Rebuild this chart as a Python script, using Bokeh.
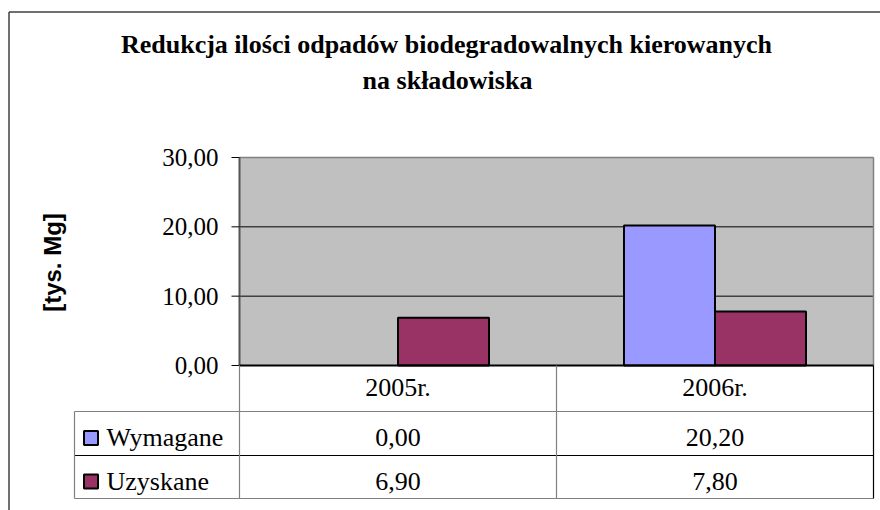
import math
from bokeh.plotting import figure
from bokeh.models import Range1d, ColumnDataSource
from bokeh.core.properties import value
from bokeh.embed import file_html
from bokeh.resources import INLINE

# ---------------- data ----------------
categories = ["2005r.", "2006r."]
series_names = ["Wymagane", "Uzyskane"]
wymagane = [0.00, 20.20]
uzyskane = [6.90, 7.80]
y_ticks = [0, 10, 20, 30]
y_tick_labels = ["0,00", "10,00", "20,00", "30,00"]
title_lines = ["Redukcja ilości odpadów biodegradowalnych kierowanych", "na składowiska"]
y_label = "[tys. Mg]"

series_values = [wymagane, uzyskane]
series_colors = ["#9999FF", "#993366"]

# ---------------- layout (page pixels) ----------------
W, H = 880, 510
PAGE = 0
PLOT_L, PLOT_R = 239, 873
PLOT_T, PLOT_B = 157, 365
n = len(categories)
ymax = y_ticks[-1]
SX = (PLOT_R - PLOT_L) / n
SY = (PLOT_B - PLOT_T) / ymax


def dx(px):
    return (px - PLOT_L) / SX


def dy(py):
    return (PLOT_B - py) / SY


SERIF = value("Liberation Serif")
SANS = value("Liberation Sans")

p = figure(width=W, height=H, output_backend="svg", toolbar_location=None,
           x_range=Range1d(dx(PAGE), dx(PAGE + W)),
           y_range=Range1d(dy(PAGE + H), dy(PAGE)),
           x_axis_location=None, y_axis_location=None, min_border=0,
           background_fill_color="white", border_fill_color="white")
p.outline_line_color = None
p.grid.visible = False

# outer chart border (left and top visible)
BL, BT = 8.5, 11.5
p.segment(x0=[dx(BL)], x1=[dx(BL)], y0=[dy(BT)], y1=[dy(PAGE + H)],
          line_color="#404040", line_width=1.5)
p.segment(x0=[dx(BL)], x1=[dx(PAGE + W)], y0=[dy(BT)], y1=[dy(BT)],
          line_color="#404040", line_width=1.5)

# plot area
p.quad(left=[0], right=[n], bottom=[0], top=[ymax], fill_color="#C0C0C0", line_color=None)

# gridlines
inner = y_ticks[1:-1]
p.segment(x0=[0] * len(inner), x1=[n] * len(inner), y0=inner, y1=inner,
          line_color="black", line_width=1)
p.segment(x0=[0], x1=[n], y0=[ymax], y1=[ymax], line_color="#808080", line_width=1.5)
p.segment(x0=[n], x1=[n], y0=[0], y1=[ymax], line_color="#808080", line_width=1.5)

# bars
bar_w = 91 / SX
offsets = [-bar_w / 2, bar_w / 2]
for vals, off, col in zip(series_values, offsets, series_colors):
    xs = [i + 0.5 + off for i in range(n)]
    src = ColumnDataSource(dict(x=[x for x, t in zip(xs, vals) if t > 0],
                                top=[t for t in vals if t > 0]))
    p.vbar(x="x", top="top", bottom=0, width=bar_w, source=src,
           fill_color=col, line_color="black", line_width=2)

# y axis
p.segment(x0=[0], x1=[0], y0=[0], y1=[ymax], line_color="#555555", line_width=2)
p.segment(x0=[dx(231)] * len(y_ticks), x1=[0] * len(y_ticks), y0=y_ticks, y1=y_ticks,
          line_color="black", line_width=1)
p.segment(x0=[0], x1=[n], y0=[0], y1=[0], line_color="black", line_width=2)
p.text(x=[dx(218)] * len(y_ticks), y=y_ticks, text=y_tick_labels,
       text_align="right", text_baseline="middle", text_font=SERIF,
       text_font_size="25px", text_color="black")

# y label
p.text(x=[dx(52)], y=[dy(262)], text=[y_label], angle=math.pi / 2,
       text_align="center", text_baseline="middle", text_font=SANS,
       text_font_style="bold", text_font_size="24px", text_color="black")

# title
p.text(x=[dx(446), dx(447)], y=[dy(44), dy(80)], text=title_lines,
       text_align="center", text_baseline="middle", text_font=SERIF,
       text_font_style="bold", text_font_size="26px", text_color="black")

# ---------------- data table ----------------
ROWS = [365, 411, 455, 498]
LEFT_COL = 74
MIDS = [387, 437, 480.5]
GRAY = "#808080"

# horizontal lines
p.segment(x0=[dx(LEFT_COL)] * 3, x1=[n] * 3, y0=[dy(r) for r in ROWS[1:]],
          y1=[dy(r) for r in ROWS[1:]], line_color=[GRAY, "black", GRAY], line_width=1.2)
# vertical lines
vx = list(range(n + 1))
p.segment(x0=vx, x1=vx, y0=[dy(ROWS[0])] * len(vx), y1=[dy(ROWS[-1])] * len(vx),
          line_color=[GRAY] * n + ["black"], line_width=1.2)
p.segment(x0=[dx(LEFT_COL)], x1=[dx(LEFT_COL)], y0=[dy(ROWS[1])], y1=[dy(ROWS[-1])],
          line_color=GRAY, line_width=1.2)

# category header
p.text(x=[i + 0.5 for i in range(n)], y=[dy(MIDS[0])] * n, text=categories,
       text_align="center", text_baseline="middle", text_font=SERIF,
       text_font_size="26px", text_color="black")

for k, (name, vals, col) in enumerate(zip(series_names, series_values, series_colors)):
    mid = MIDS[k + 1]
    p.scatter(x=[dx(90.5)], y=[dy(mid + 0.5)], marker="square", size=14,
              fill_color=col, line_color="black", line_width=2)
    p.text(x=[dx(106)], y=[dy(mid)], text=[name], text_align="left",
           text_baseline="middle", text_font=SERIF, text_font_size="26px",
           text_color="black")
    p.text(x=[i + 0.5 for i in range(n)], y=[dy(mid)] * n,
           text=[f"{v:.2f}".replace(".", ",") for v in vals],
           text_align="center", text_baseline="middle", text_font=SERIF,
           text_font_size="26px", text_color="black")

open("out.html", "w").write(file_html(p, INLINE))
